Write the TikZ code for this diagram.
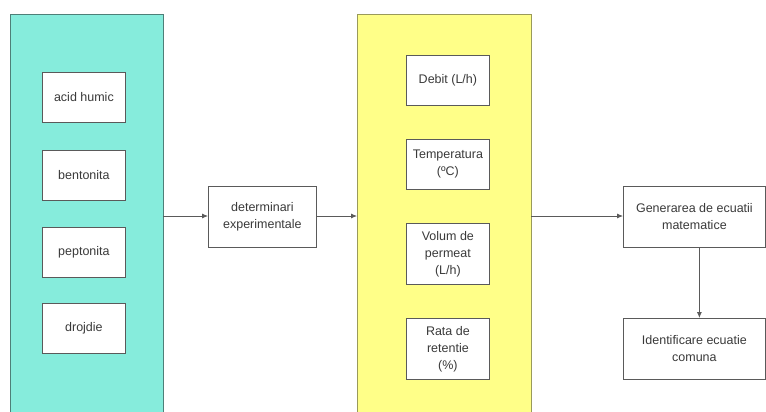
\documentclass[tikz,border=0pt]{standalone}
\usepackage{fontspec}
\setmainfont{Liberation Sans}
\usetikzlibrary{arrows.meta}
\definecolor{tealfill}{HTML}{86ECDC}
\definecolor{tealline}{HTML}{4E7F78}
\definecolor{yelfill}{HTML}{FFFF88}
\definecolor{yelline}{HTML}{9A9A5A}
\definecolor{boxline}{HTML}{5A5A5A}
\definecolor{txt}{HTML}{3A3A3A}
\tikzset{
  panel/.style={draw, line width=0.8pt},
  item/.style={draw=boxline, fill=white, line width=0.8pt, anchor=north west,
    align=center, text=txt, inner sep=0pt,
    font=\fontsize{12.5}{17}\selectfont},
  conn/.style={draw=boxline, line width=0.8pt, -{Latex[length=6pt,width=5pt]}},
}
\begin{document}
\begin{tikzpicture}[x=1pt,y=-1pt]
\useasboundingbox (0,0) rectangle (766,412);
\clip (0,0) rectangle (766,412);
\fill[white] (0,0) rectangle (766,412);
% panels
\node[panel, draw=tealline, fill=tealfill, minimum width=153pt, minimum height=420pt, anchor=north west, inner sep=0pt] (left) at (10,14) {};
\node[panel, draw=yelline, fill=yelfill, minimum width=174pt, minimum height=420pt, anchor=north west, inner sep=0pt] (mid) at (357,14) {};
% left items
\node[item, minimum width=83pt, minimum height=50pt] (a1) at (42,72) {acid humic};
\node[item, minimum width=83pt, minimum height=50pt] (a2) at (42,150) {bentonita};
\node[item, minimum width=83pt, minimum height=50pt] (a3) at (42,227) {peptonita};
\node[item, minimum width=83pt, minimum height=50pt] (a4) at (42,303) {drojdie};
% middle items
\node[item, minimum width=83pt, minimum height=50pt] (b1) at (406,55) {Debit (L/h)};
\node[item, minimum width=83pt, minimum height=50pt] (b2) at (406,139) {Temperatura\\(ºC)};
\node[item, minimum width=83pt, minimum height=61pt] (b3) at (406,223) {Volum de\\permeat\\(L/h)};
\node[item, minimum width=83pt, minimum height=61pt] (b4) at (406,318) {Rata de\\retentie\\(\%)};
% process boxes
\node[item, minimum width=108pt, minimum height=61pt] (det) at (208,186) {determinari\\experimentale};
\node[item, minimum width=142pt, minimum height=61pt] (gen) at (623,186) {Generarea de ecuatii\\matematice};
\node[item, minimum width=142pt, minimum height=61pt] (ide) at (623,318) {Identificare ecuatie\\comuna};
% connectors
\coordinate (lo) at (163,216);
\coordinate (mi) at (357,216);
\coordinate (mo) at (531,216);
\draw[conn] (lo) -- (det.west |- lo);
\draw[conn] (det.east |- mi) -- (mi);
\draw[conn] (mo) -- (gen.west |- mo);
\draw[conn] ([xshift=5pt]gen.south) -- ([xshift=5pt]ide.north);
\end{tikzpicture}
\end{document}
